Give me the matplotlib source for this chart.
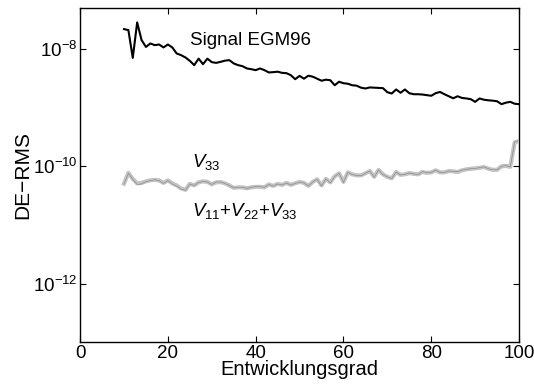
import matplotlib
matplotlib.use("Agg")
import matplotlib.pyplot as plt
import numpy as np

plt.rcParams["font.family"] = ["Liberation Sans", "DejaVu Sans"]
plt.rcParams["mathtext.fontset"] = "custom"
plt.rcParams["mathtext.rm"] = "Liberation Sans"
plt.rcParams["mathtext.it"] = "Liberation Sans:italic"

degree = np.arange(10, 101)

signal_egm96 = [
    2.20e-8, 2.11e-8, 7.1e-9, 2.86e-8, 1.43e-8, 1.09e-8, 1.25e-8, 1.17e-8, 1.20e-8, 1.07e-8,
    1.20e-8, 1.07e-8, 8.44e-9, 7.9e-9, 7.21e-9, 6.31e-9, 5.33e-9, 6.88e-9, 5.54e-9, 6.88e-9,
    6.0e-9, 5.83e-9, 6.07e-9, 6.36e-9, 6.49e-9, 5.70e-9, 5.33e-9, 5.12e-9, 4.68e-9, 4.55e-9,
    4.38e-9, 4.68e-9, 4.38e-9, 4.0e-9, 4.05e-9, 4.12e-9, 3.94e-9, 3.89e-9, 3.60e-9, 3.07e-9,
    3.50e-9, 3.13e-9, 3.52e-9, 3.39e-9, 3.13e-9, 2.89e-9, 3.01e-9, 2.95e-9, 2.42e-9, 2.78e-9,
    2.62e-9, 2.57e-9, 2.42e-9, 2.38e-9, 2.20e-9, 2.13e-9, 2.22e-9, 2.20e-9, 2.18e-9, 2.16e-9,
    1.84e-9, 1.75e-9, 2.05e-9, 1.80e-9, 2.05e-9, 1.77e-9, 1.70e-9, 1.70e-9, 1.68e-9, 1.64e-9,
    1.60e-9, 1.77e-9, 1.86e-9, 1.70e-9, 1.57e-9, 1.45e-9, 1.57e-9, 1.47e-9, 1.44e-9, 1.40e-9,
    1.26e-9, 1.44e-9, 1.37e-9, 1.34e-9, 1.32e-9, 1.29e-9, 1.15e-9, 1.22e-9, 1.26e-9, 1.17e-9,
    1.15e-9,
]

v_sum = [
    5.06e-11, 7.74e-11, 6.11e-11, 5.12e-11, 5.22e-11, 5.54e-11, 5.76e-11, 5.88e-11, 5.76e-11, 5.22e-11,
    5.76e-11, 5.12e-11, 4.73e-11, 4.21e-11, 3.97e-11, 5.02e-11, 4.73e-11, 5.33e-11, 5.54e-11, 5.43e-11,
    4.92e-11, 5.33e-11, 5.39e-11, 5.12e-11, 4.73e-11, 4.29e-11, 4.38e-11, 4.38e-11, 4.21e-11, 4.38e-11,
    4.46e-11, 4.46e-11, 4.38e-11, 4.92e-11, 4.64e-11, 5.02e-11, 4.83e-11, 5.22e-11, 4.83e-11, 5.12e-11,
    5.43e-11, 5.22e-11, 4.64e-11, 5.43e-11, 6.0e-11, 4.73e-11, 6.11e-11, 5.33e-11, 6.75e-11, 7.59e-11,
    5.43e-11, 7.89e-11, 7.30e-11, 7.02e-11, 7.02e-11, 7.59e-11, 8.31e-11, 6.62e-11, 8.71e-11, 7.30e-11,
    6.62e-11, 6.24e-11, 8.0e-11, 7.16e-11, 7.30e-11, 7.68e-11, 7.45e-11, 7.30e-11, 8.0e-11, 7.74e-11,
    7.89e-11, 8.55e-11, 7.89e-11, 7.89e-11, 8.31e-11, 8.22e-11, 8.0e-11, 8.55e-11, 8.89e-11, 9.06e-11,
    9.24e-11, 9.42e-11, 9.73e-11, 9.13e-11, 8.71e-11, 8.71e-11, 1.0e-10, 1.02e-10, 9.80e-11, 2.57e-10,
    2.71e-10,
]

v33 = [
    5.0e-11, 7.6e-11, 6.0e-11, 4.9e-11, 5.0e-11, 5.5e-11, 5.7e-11, 5.9e-11, 5.7e-11, 5.1e-11,
    5.7e-11, 5.0e-11, 4.6e-11, 4.1e-11, 3.9e-11, 5.0e-11, 4.7e-11, 5.3e-11, 5.5e-11, 5.4e-11,
    4.9e-11, 5.4e-11, 5.4e-11, 5.1e-11, 4.7e-11, 4.3e-11, 4.4e-11, 4.4e-11, 4.2e-11, 4.4e-11,
    4.5e-11, 4.5e-11, 4.4e-11, 4.9e-11, 4.6e-11, 5.0e-11, 4.8e-11, 5.2e-11, 4.8e-11, 5.1e-11,
    5.4e-11, 5.2e-11, 4.6e-11, 5.4e-11, 6.0e-11, 4.6e-11, 6.1e-11, 5.2e-11, 6.7e-11, 7.6e-11,
    5.3e-11, 7.9e-11, 7.2e-11, 7.0e-11, 6.9e-11, 7.6e-11, 8.3e-11, 6.5e-11, 8.7e-11, 7.2e-11,
    6.6e-11, 6.2e-11, 8.0e-11, 7.1e-11, 7.3e-11, 7.7e-11, 7.4e-11, 7.3e-11, 8.1e-11, 7.8e-11,
    7.9e-11, 8.6e-11, 7.9e-11, 7.9e-11, 8.3e-11, 8.2e-11, 8.1e-11, 8.6e-11, 8.9e-11, 9.1e-11,
    9.2e-11, 9.5e-11, 9.8e-11, 9.1e-11, 8.7e-11, 8.7e-11, 1.0e-10, 1.03e-10, 9.8e-11, 2.6e-10,
    2.75e-10,
]

fig = plt.figure(figsize=(5.34, 3.87), dpi=100)
ax = fig.add_axes([0.150, 0.116, 0.822, 0.863])

ax.plot(degree, v33, color="black", lw=0.8, zorder=2)
ax.plot(degree, v_sum, color="#c4c4c4", lw=3.0, zorder=3)
ax.plot(degree, v33, color="black", lw=0.4, alpha=0.35, zorder=4)
ax.plot(degree, signal_egm96, color="black", lw=1.5, zorder=5)

ax.set_yscale("log")
ax.set_xlim(0, 100)
ax.set_ylim(1e-13, 10 ** -7.3)
ax.set_xticks([0, 20, 40, 60, 80, 100])
ax.set_yticks([1e-12, 1e-10, 1e-8])
ax.yaxis.set_minor_locator(matplotlib.ticker.NullLocator())
ax.tick_params(direction="in", top=True, right=True, labelsize=13.5, length=4, width=0.8)
ax.tick_params(axis="x", pad=2)
ax.tick_params(axis="y", pad=2)
for s in ax.spines.values():
    s.set_linewidth(1.0)

ax.set_xlabel("Entwicklungsgrad", fontsize=14.5, labelpad=-1)
ax.set_ylabel("DE\u2212RMS", fontsize=15, labelpad=0)

ax.text(25, 10 ** -7.86, "Signal EGM96", fontsize=13.5, va="center", ha="left")
ax.text(25.5, 10 ** -9.93, r"$V_{33}$", fontsize=13.5, va="center", ha="left")
ax.text(25.5, 10 ** -10.76, r"$V_{11}$+$V_{22}$+$V_{33}$", fontsize=13.5, va="center", ha="left")

fig.savefig("out.png", dpi=100)
